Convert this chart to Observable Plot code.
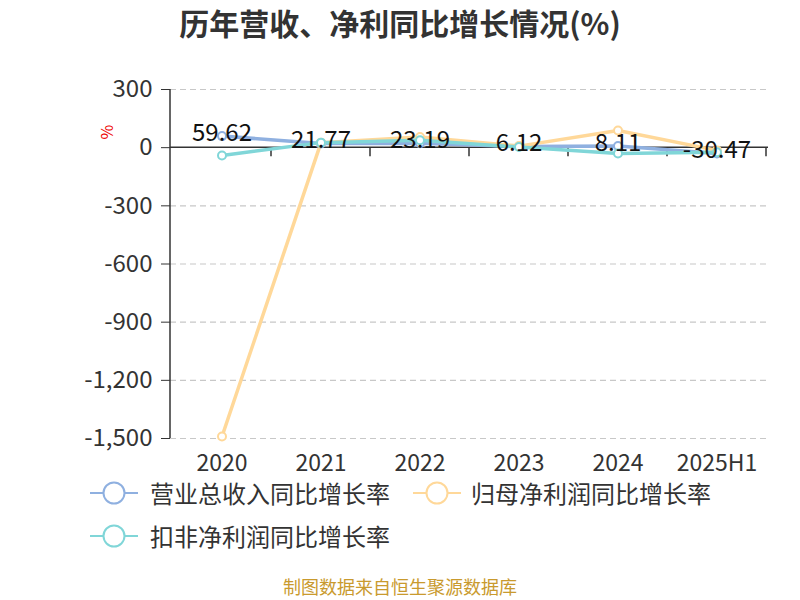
<!DOCTYPE html>
<html><head><meta charset="utf-8">
<script src="https://cdn.jsdelivr.net/npm/d3@7"></script>
<script src="https://cdn.jsdelivr.net/npm/@observablehq/plot@0.6"></script>
<style>
body{margin:0;background:#fff;font-family:"Noto Sans CJK SC","Noto Sans",sans-serif;}
#wrap{position:relative;width:800px;height:600px;overflow:hidden;background:#fff;}
#chart{position:absolute;left:0;top:0;}
.abs{position:absolute;white-space:nowrap;line-height:1;}
</style></head><body>
<div id="wrap">
  <div id="chart"></div>
</div>
<script>
const categories = ["2020", "2021", "2022", "2023", "2024", "2025H1"];
const revenueGrowth = [59.62, 21.77, 23.19, 6.12, 8.11, -30.47];
const netProfitGrowth = [-1490, 26, 55, 8, 89, -14];
const deductedProfitGrowth = [-40, 26, 38, 3, -30, -24];
const yTicks = [300, 0, -300, -600, -900, -1200, -1500];
const seriesNames = ["营业总收入同比增长率", "归母净利润同比增长率", "扣非净利润同比增长率"];
const seriesColors = ["#8fb0e0", "#ffd899", "#80d6d8"];
const titleText = "历年营收、净利同比增长情况(%)";
const unitText = "%";
const footerText = "制图数据来自恒生聚源数据库";

const seriesValues = [revenueGrowth, netProfitGrowth, deductedProfitGrowth];
const rows = [];
seriesValues.forEach((vals, s) => vals.forEach((v, i) => rows.push({cat: categories[i], value: v, series: seriesNames[s]})));
const labelRows = categories.map((c, i) => ({cat: c, value: revenueGrowth[i]}));
const hyphen = s => s.replace(/\u2212/g, "-");

function axisLines(index, scales, values, dims) {
  const {x, y} = scales;
  const g = d3.create("svg:g").attr("stroke", "#333").attr("stroke-width", 1.5);
  const y0 = y(0);
  const left = dims.marginLeft, right = dims.width - dims.marginRight;
  g.append("line").attr("x1", left).attr("x2", left).attr("y1", y(d3.max(yTicks))).attr("y2", y(d3.min(yTicks)));
  g.append("line").attr("x1", left).attr("x2", right).attr("y1", y0).attr("y2", y0);
  const bounds = categories.map(c => x(c)).concat([x(categories[categories.length - 1]) + x.bandwidth()]);
  bounds.slice(1).forEach(bx => g.append("line").attr("x1", bx).attr("x2", bx).attr("y1", y0).attr("y2", y0 + 9));
  return g.node();
}

const marks = [
  Plot.gridY(yTicks.filter(t => t !== 0), {stroke: "#c8c8c8", strokeOpacity: 1, strokeDasharray: "6,4", strokeWidth: 1.2}),
  Plot.axisY({ticks: yTicks, tickFormat: d => hyphen(d3.format(",")(d)), tickSize: 9, tickPadding: 9, fontSize: 24, label: null, stroke: "#333", fill: "#333"}),
  Plot.axisX({anchor: "bottom", tickSize: 0, tickPadding: 16, fontSize: 23, label: null, fill: "#333"}),
  axisLines
];
seriesNames.forEach((name, s) => {
  const d = rows.filter(r => r.series === name);
  marks.push(Plot.line(d, {x: "cat", y: "value", stroke: seriesColors[s], strokeWidth: 3.5}));
});
seriesNames.forEach((name, s) => {
  const d = rows.filter(r => r.series === name);
  marks.push(Plot.dot(d, {x: "cat", y: "value", r: 4, fill: "#fff", stroke: seriesColors[s], strokeWidth: 2}));
});
marks.push(Plot.text(labelRows, {x: "cat", y: "value", text: d => hyphen(d3.format(".2f")(d.value)), dy: -3, fontSize: 24, fill: "#111", lineAnchor: "middle"}));

const chart = Plot.plot({
  width: 800, height: 600,
  marginTop: 89, marginBottom: 162, marginLeft: 170, marginRight: 32,
  style: {fontFamily: '"Noto Sans CJK SC","Noto Sans",sans-serif', background: "#fff", color: "#333"},
  x: {type: "band", domain: categories, padding: 0},
  y: {domain: [-1500, 300]},
  marks
});
const wrap = document.getElementById("wrap");
document.getElementById("chart").appendChild(chart);

function addText(txt, css) {
  const d = document.createElement("div");
  d.className = "abs";
  d.textContent = txt;
  Object.assign(d.style, css);
  wrap.appendChild(d);
  return d;
}
addText(titleText, {left: "0px", width: "800px", textAlign: "center", top: "7px", fontSize: "30px", fontWeight: "bold", color: "#333"});
addText(unitText, {left: "99px", top: "124px", fontSize: "16px", color: "#e00", transform: "rotate(-90deg)", transformOrigin: "center"});
addText(footerText, {left: "0px", width: "800px", textAlign: "center", top: "577px", fontSize: "18px", color: "#c99a2e"});

const legendPos = [{sx: 88, tx: 150, cy: 493}, {sx: 411, tx: 471, cy: 493}, {sx: 88, tx: 150, cy: 536}];
seriesNames.forEach((name, s) => {
  const p = legendPos[s];
  const ns = "http://www.w3.org/2000/svg";
  const svg = document.createElementNS(ns, "svg");
  svg.setAttribute("width", 52); svg.setAttribute("height", 26);
  svg.style.position = "absolute"; svg.style.left = p.sx + "px"; svg.style.top = (p.cy - 13) + "px";
  const ln = document.createElementNS(ns, "line");
  ln.setAttribute("x1", 2); ln.setAttribute("x2", 50); ln.setAttribute("y1", 13); ln.setAttribute("y2", 13);
  ln.setAttribute("stroke", seriesColors[s]); ln.setAttribute("stroke-width", 2);
  const c = document.createElementNS(ns, "circle");
  c.setAttribute("cx", 26); c.setAttribute("cy", 13); c.setAttribute("r", 10.5);
  c.setAttribute("fill", "#fff"); c.setAttribute("stroke", seriesColors[s]); c.setAttribute("stroke-width", 2);
  svg.appendChild(ln); svg.appendChild(c);
  wrap.appendChild(svg);
  addText(name, {left: p.tx + "px", top: (p.cy - 12) + "px", fontSize: "24px", color: "#333"});
});
</script>
</body></html>
